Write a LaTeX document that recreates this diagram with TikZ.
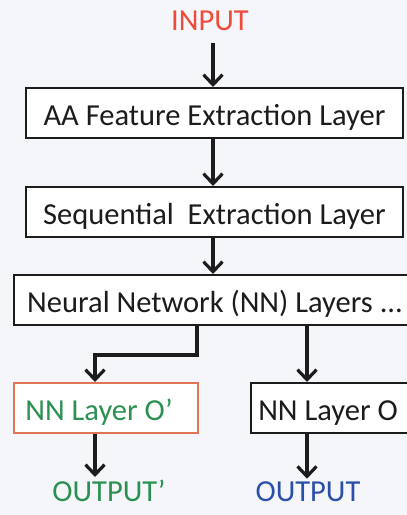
\documentclass[tikz,border=0pt]{standalone}
\usepackage{fontspec}
\setmainfont{Carlito}
\usetikzlibrary{arrows.meta}
\definecolor{bgc}{HTML}{F5F6FA}
\definecolor{inred}{HTML}{EE4B3B}
\definecolor{gr}{HTML}{2A9152}
\definecolor{bl}{HTML}{2B4FA8}
\definecolor{orb}{HTML}{E27456}
\definecolor{ln}{HTML}{1C1C1C}
\begin{document}
\begin{tikzpicture}[x=1pt,y=-1pt,
  font=\fontsize{30.5}{35}\selectfont,
  layerbox/.style={draw=ln, line width=2pt, fill=white, rectangle,
    minimum height=50pt, inner xsep=0pt, inner ysep=0pt,
    text height=37.5pt, text depth=12.5pt, text=ln},
  arr/.style={draw=ln, line width=3.2pt,
    -{Straight Barb[length=10pt,width=19pt]}},
  lab/.style={anchor=base, inner sep=0pt}]
\fill[bgc] (0,0) rectangle (407,515);
\useasboundingbox (0,0) rectangle (407,515);

\node[lab, text=inred] (in) at (210,30) {INPUT};
\node[layerbox, minimum width=377pt] (b1) at (214.5,113) {AA Feature Extraction Layer};
\node[layerbox, minimum width=377pt] (b2) at (214.5,212) {Sequential\ \ Extraction Layer};
\node[layerbox, minimum width=402pt] (b3) at (215,300) {Neural Network (NN) Layers ...};
\node[layerbox, draw=orb, minimum width=184pt, text=gr] (b4) at (106,408) {NN Layer O’\hspace*{14pt}};
\node[layerbox, minimum width=158pt] (b5) at (330,408) {NN Layer O\hspace*{4pt}};
\node[lab, text=gr] (o1) at (109,501.7) {OUTPUT’};
\node[lab, text=bl] (o2) at (308,501.7) {OUTPUT};

\coordinate (mx) at (213,0);
\coordinate (lx) at (197,0);
\coordinate (ax) at (95,0);
\coordinate (rx) at (307,0);
\coordinate (jn) at (0,355);

\draw[arr, shorten <=13pt] (in.south -| mx) -- (b1.north -| mx);
\draw[arr] (b1.south -| mx) -- (b2.north -| mx);
\draw[arr] (b2.south -| mx) -- (b3.north -| mx);
\draw[arr] (b3.south -| lx) -- (lx |- jn) -| (b4.north -| ax);
\draw[arr] (b3.south -| rx) -- (b5.north -| rx);
\draw[arr, shorten >=3pt] (b4.south -| ax) -- (o1.north -| ax);
\draw[arr, shorten >=3pt] (b5.south -| rx) -- (o2.north -| rx);
\end{tikzpicture}
\end{document}
